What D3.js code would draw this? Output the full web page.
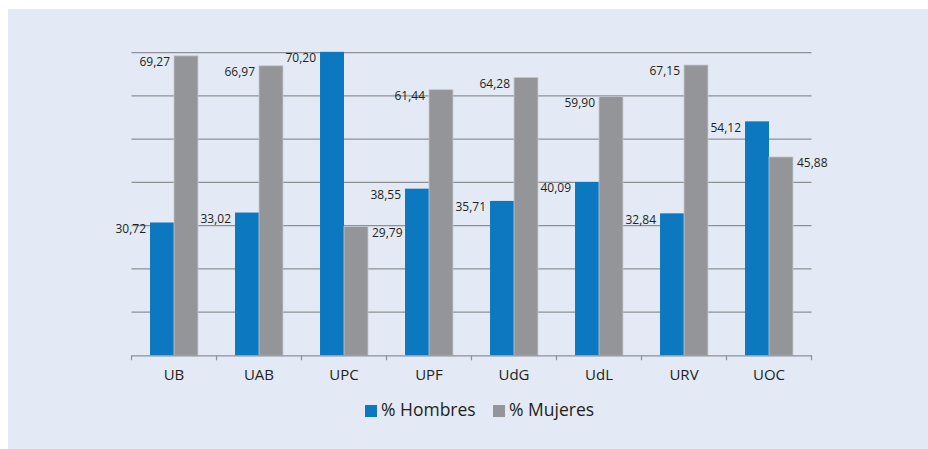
<!DOCTYPE html>
<html>
<head>
<meta charset="utf-8">
<script src="https://cdn.jsdelivr.net/npm/d3@7"></script>
<style>
  body { margin: 0; background: #fff; }
  svg { display: block; font-family: "Open Sans", sans-serif; }
</style>
</head>
<body>
<div id="chart"></div>
<script>
let universities = ["UB", "UAB", "UPC", "UPF", "UdG", "UdL", "URV", "UOC"]
let hombres = [30.72, 33.02, 70.20, 38.55, 35.71, 40.09, 32.84, 54.12]
let mujeres = [69.27, 66.97, 29.79, 61.44, 64.28, 59.90, 67.15, 45.88]
let seriesNames = ["% Hombres", "% Mujeres"]
let gridValues = [10, 20, 30, 40, 50, 60, 70]

let width = 928
let height = 449
let colors = ["#0b78bf", "#939598"]

let svg = d3.select("#chart")
    .append("svg")
    .attr("width", width)
    .attr("height", height)

svg.append("rect")
    .attr("x", 8).attr("y", 9)
    .attr("width", width - 8).attr("height", height - 9)
    .attr("fill", "#e4eaf5")

let x = d3.scaleBand()
    .domain(universities)
    .range([131.5, 811.5])

let x1 = d3.scaleBand()
    .domain([0, 1])
    .range([x.bandwidth() * 0.218, x.bandwidth() * 0.782])

let y = d3.scaleLinear()
    .domain([0, 70])
    .range([355.3, 52.7])

// grid
svg.selectAll(".grid")
    .data(gridValues)
    .enter()
    .append("line")
    .attr("x1", 131.5).attr("x2", 811.5)
    .attr("y1", d => y(d)).attr("y2", d => y(d))
    .attr("stroke", "#8d9095")
    .attr("stroke-width", 1.2)

let data = universities.map((u, i) => ({ uni: u, values: [hombres[i], mujeres[i]] }))

let groups = svg.selectAll(".grp")
    .data(data)
    .enter()
    .append("g")
    .attr("transform", d => `translate(${x(d.uni)},0)`)

groups.selectAll("rect")
    .data(d => d.values.map((v, k) => ({ v: v, k: k, other: d.values[1 - k] })))
    .enter()
    .append("rect")
    .attr("x", d => x1(d.k))
    .attr("width", x1.bandwidth())
    .attr("y", d => y(d.v))
    .attr("height", d => y(0) - y(d.v))
    .attr("fill", d => colors[d.k])
    .attr("stroke", d => d.k === 1 ? "#c3c7ce" : "none")
    .attr("stroke-width", 0.8)

groups.selectAll("text")
    .data(d => d.values.map((v, k) => ({ v: v, k: k, other: d.values[1 - k] })))
    .enter()
    .append("text")
    .attr("x", d => {
        if (d.k === 1 && d.v < d.other) return x1(1) + x1.bandwidth() + 4
        return x1(d.k) - 4
    })
    .attr("y", d => y(d.v) + 7)
    .attr("dominant-baseline", "middle")
    .attr("text-anchor", d => (d.k === 1 && d.v < d.other) ? "start" : "end")
    .style("font-size", "12px")
    .attr("fill", "#231f20")
    .text(d => d3.format(".2f")(d.v).replace(".", ","))

// axis
let axis = svg.append("g")
    .attr("transform", `translate(0,${y(0)})`)
    .call(d3.axisBottom(x).tickSize(0).tickPadding(14))
axis.select(".domain").attr("stroke", "#8d9095").attr("stroke-width", 1.2)
axis.selectAll("text")
    .style("font-size", "15px")
    .style("font-family", "'Open Sans', sans-serif")
    .attr("fill", "#231f20")

let bounds = universities.map(u => x(u)).concat([x.range()[1]])
svg.selectAll(".tk")
    .data(bounds)
    .enter()
    .append("line")
    .attr("x1", d => d).attr("x2", d => d)
    .attr("y1", y(0)).attr("y2", y(0) + 5)
    .attr("stroke", "#8d9095")
    .attr("stroke-width", 1.2)

// legend
let legendX = [365, 493]
let legend = svg.selectAll(".leg")
    .data(seriesNames)
    .enter()
    .append("g")
    .attr("transform", (d, i) => `translate(${legendX[i]},405)`)
legend.append("rect")
    .attr("width", 12).attr("height", 12)
    .attr("fill", (d, i) => colors[i])
legend.append("text")
    .attr("x", 16).attr("y", 6)
    .attr("dominant-baseline", "middle")
    .style("font-size", "17.5px")
    .attr("fill", "#231f20")
    .text(d => d)
</script>
</body>
</html>
